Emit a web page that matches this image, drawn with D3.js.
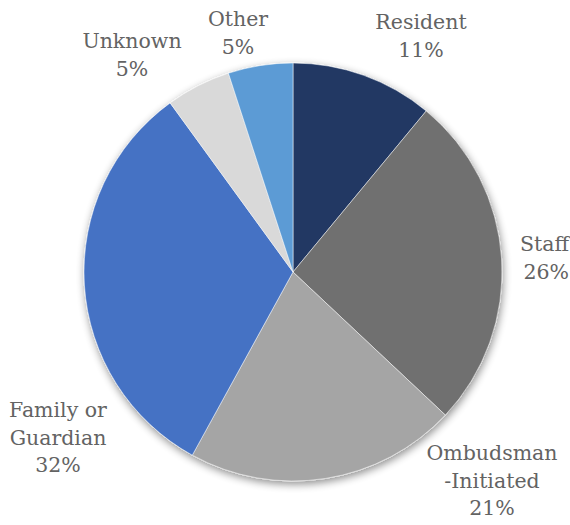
<!DOCTYPE html>
<html>
<head>
<meta charset="utf-8">
<script src="https://cdn.jsdelivr.net/npm/d3@7"></script>
<style>
  html, body { margin: 0; padding: 0; background: #ffffff; }
  svg { display: block; }
</style>
</head>
<body>
<svg id="chart" width="570" height="525"></svg>
<script>
// Complaint sources, clockwise from 12 o'clock
const categories = ["Resident", "Staff", "Ombudsman-Initiated", "Family or Guardian", "Unknown", "Other"];
const values = [11, 26, 21, 32, 5, 5];
const colors = ["#203864", "#6f6f6f", "#a5a5a5", "#4472c4", "#d9d9d9", "#5b9bd5"];
// Label lines for each slice (the percentage line is appended from values)
const labelLines = [
  ["Resident"],
  ["Staff"],
  ["Ombudsman", "-Initiated"],
  ["Family or", "Guardian"],
  ["Unknown"],
  ["Other"]
];

const svg = d3.select("#chart");
const W = 570;
const cx = 293, cy = 272, r = 209;

// Label anchor points (first line's baseline) and text anchoring
const labelPos = [
  [421, 29, "middle"], [W - 1, 251, "end"], [492, 460, "middle"],
  [58, 417, "middle"], [132, 48, "middle"], [238, 26, "middle"]
];

const defs = svg.append("defs");
const shadow = defs.append("filter").attr("id", "shadow")
  .attr("x", "-20%").attr("y", "-20%").attr("width", "140%").attr("height", "140%");
shadow.append("feGaussianBlur").attr("in", "SourceAlpha").attr("stdDeviation", 4).attr("result", "b");
shadow.append("feOffset").attr("in", "b").attr("dx", 1).attr("dy", 3).attr("result", "o");
shadow.append("feComponentTransfer").attr("in", "o").attr("result", "s")
  .append("feFuncA").attr("type", "linear").attr("slope", 0.45);
const merge = shadow.append("feMerge");
merge.append("feMergeNode").attr("in", "s");
merge.append("feMergeNode").attr("in", "SourceGraphic");

const data = categories.map((c, i) => ({ name: c, value: values[i], color: colors[i], i }));

const pie = d3.pie().value(d => d.value).sort(null);
const arc = d3.arc().innerRadius(0).outerRadius(r);

const g = svg.append("g")
  .attr("transform", `translate(${cx},${cy})`)
  .attr("filter", "url(#shadow)");

g.selectAll("path")
  .data(pie(data))
  .join("path")
  .attr("d", arc)
  .attr("fill", d => d.data.color)
  .attr("stroke", "#ffffff")
  .attr("stroke-width", 0.5);

const lineH = 27.5;
svg.append("g")
  .selectAll("text")
  .data(data)
  .join("text")
  .attr("x", d => labelPos[d.i][0])
  .attr("y", d => labelPos[d.i][1])
  .attr("text-anchor", d => labelPos[d.i][2])
  .attr("font-family", "'DejaVu Serif', 'Liberation Serif', serif")
  .attr("font-size", 20.5)
  .attr("fill", "#636363")
  .each(function(d) {
    const t = d3.select(this);
    const lines = labelLines[d.i].concat([d.value + "%"]);
    lines.forEach((ln, k) => {
      t.append("tspan")
        .attr("x", labelPos[d.i][0])
        .attr("dy", k === 0 ? 0 : lineH)
        .text(ln);
    });
  });
</script>
</body>
</html>
